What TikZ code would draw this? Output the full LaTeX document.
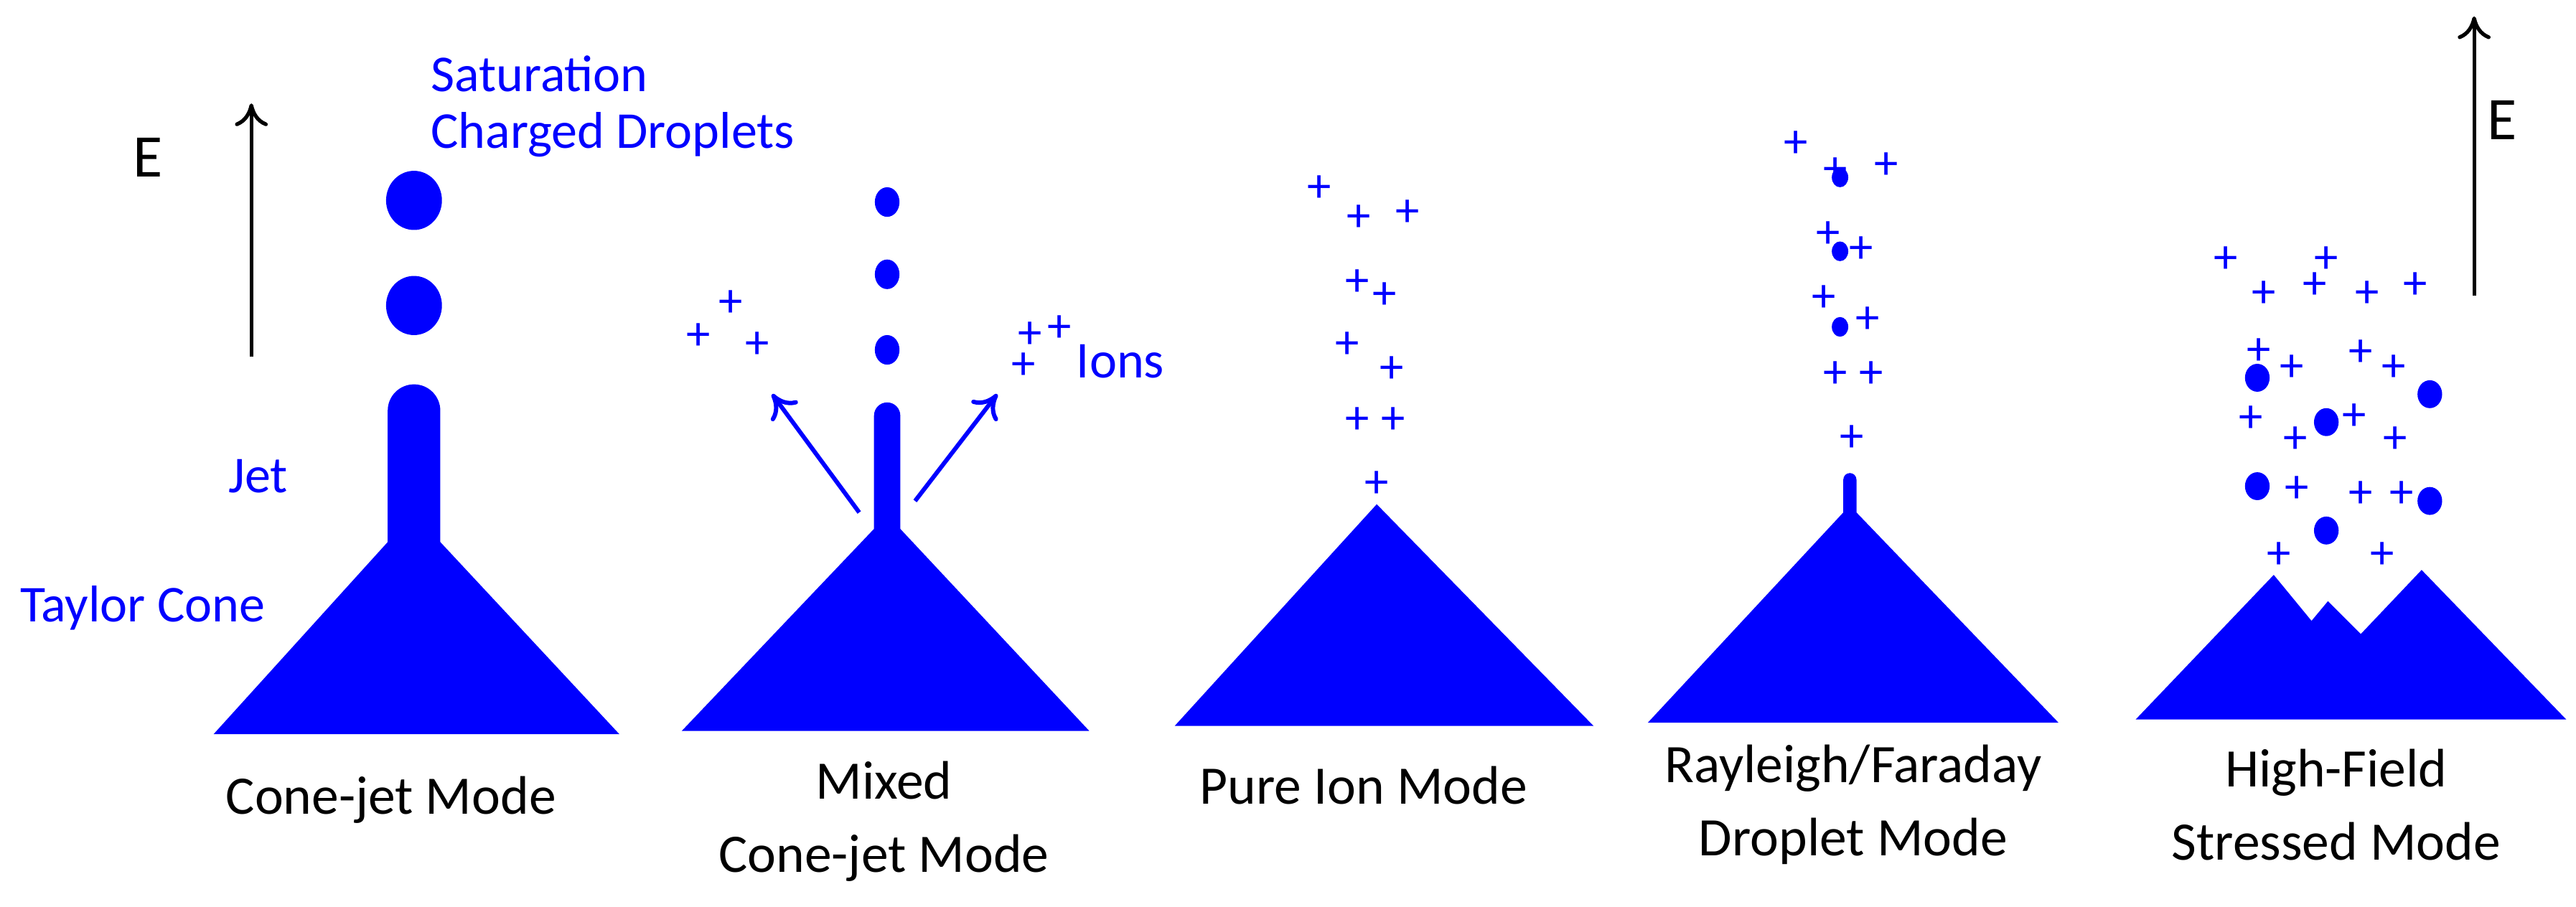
\documentclass[tikz,border=0pt]{standalone}
\usepackage{fontspec}
\setmainfont{Carlito}
\usetikzlibrary{arrows.meta}
\definecolor{pb}{RGB}{0,0,255}
\begin{document}
\begin{tikzpicture}[x=0.02289cm,y=-0.02289cm,
  lab/.style={font=\fontsize{21.5}{26}\selectfont,align=center,inner sep=0pt},
  blab/.style={font=\fontsize{20.5}{24}\selectfont,text=pb,inner sep=0pt},
  pl/.style={font=\fontsize{19}{20}\selectfont,text=pb,inner sep=0pt},
  earrow/.style={-{To[length=9pt,width=13pt,line width=1.5pt]},line width=1.5pt,black},
  barrow/.style={-{To[length=9pt,width=13pt,line width=1.7pt]},line width=1.7pt,pb}]
\useasboundingbox (0,0) rectangle (1568,552);
% panel 1
\fill[pb] (130,447) -- (236,330) -- (236,250) arc[start angle=180,end angle=360,radius=16] -- (268,330) -- (377,447) -- cycle;
\fill[pb] (252,122) ellipse[x radius=17,y radius=18];
\fill[pb] (252,186) ellipse[x radius=17,y radius=18];
\coordinate (e1a) at (153,217); \coordinate (e1b) at (153,63);
\draw[earrow] (e1a) -- (e1b);
\node[lab,font=\fontsize{24}{28}\selectfont] (E1) at (90,96) {E};
\node[blab,anchor=west] (sat) at (262,45) {Saturation};
\node[blab,anchor=west] (chd) at (262,82) {Charged Droplets};
\node[blab] (jet) at (157,290) {Jet};
\node[blab,anchor=west] (tc) at (12,370) {Taylor Cone};
\node[lab] (l1) at (238,487) {Cone-jet Mode};
% panel 2
\fill[pb] (415,445) -- (532,322) -- (532,253) arc[start angle=180,end angle=360,radius=8] -- (548,322) -- (663,445) -- cycle;
\foreach \y in {123,167,213} \fill[pb] (540,\y) ellipse[x radius=7.5,y radius=9];
\coordinate (a1s) at (523,312); \coordinate (a1e) at (470,240);
\coordinate (a2s) at (557,305); \coordinate (a2e) at (607,240);
\draw[barrow] (a1s) -- (a1e);
\draw[barrow] (a2s) -- (a2e);
\foreach \p in {(445,185),(425,205),(461,210),(627,204),(645,200),(623,223)} \node[pl] at \p {+};
\node[blab,anchor=west] (ions) at (655,220) {Ions};
\node[lab] (l2) at (538,500) {Mixed\\[3pt]Cone-jet Mode};
% panel 3
\fill[pb] (715,442) -- (838,307) -- (970,442) -- cycle;
\foreach \p in {(803,115),(827,133),(857,130),(826,172),(843,180),(820,210),(847,225),(826,256),(848,256),(838,295)} \node[pl] at \p {+};
\node[lab] (l3) at (830,478) {Pure Ion Mode};
% panel 4
\fill[pb] (1003,440) -- (1122,312) -- (1122,292) arc[start angle=180,end angle=360,radius=4] -- (1130,312) -- (1253,440) -- cycle;
\foreach \y in {108,153,199} \fill[pb] (1120,\y) ellipse[x radius=5,y radius=6];
\foreach \p in {(1093,88),(1117,104),(1148,101),(1113,143),(1133,152),(1110,182),(1137,195),(1117,228),(1139,228),(1127,267)} \node[pl] at \p {+};
\node[lab] (l4) at (1128,490) {Rayleigh/Faraday\\[3pt]Droplet Mode};
% panel 5
\fill[pb] (1300,438) -- (1384,350) -- (1407,378) -- (1417,366) -- (1437,386) -- (1474,347) -- (1562,438) -- cycle;
\foreach \p in {(1374,230),(1416,257),(1479,240),(1374,296),(1416,323),(1479,305)} \fill[pb] \p ellipse[x radius=7.5,y radius=8.5];
\foreach \p in {(1355,158),(1378,179),(1416,158),(1409,174),(1441,179),(1470,174),(1375,214),(1395,224),(1437,215),(1457,224),(1370,255),(1397,268),(1433,254),(1458,268),(1398,298),(1437,301),(1462,301),(1387,338),(1450,338)} \node[pl] at \p {+};
\coordinate (e2a) at (1506,180); \coordinate (e2b) at (1506,10);
\draw[earrow] (e2a) -- (e2b);
\node[lab,font=\fontsize{24}{28}\selectfont] (E2) at (1523,73) {E};
\node[lab] (l5) at (1422,490) {High-Field\\[3pt]Stressed Mode};
\end{tikzpicture}
\end{document}
